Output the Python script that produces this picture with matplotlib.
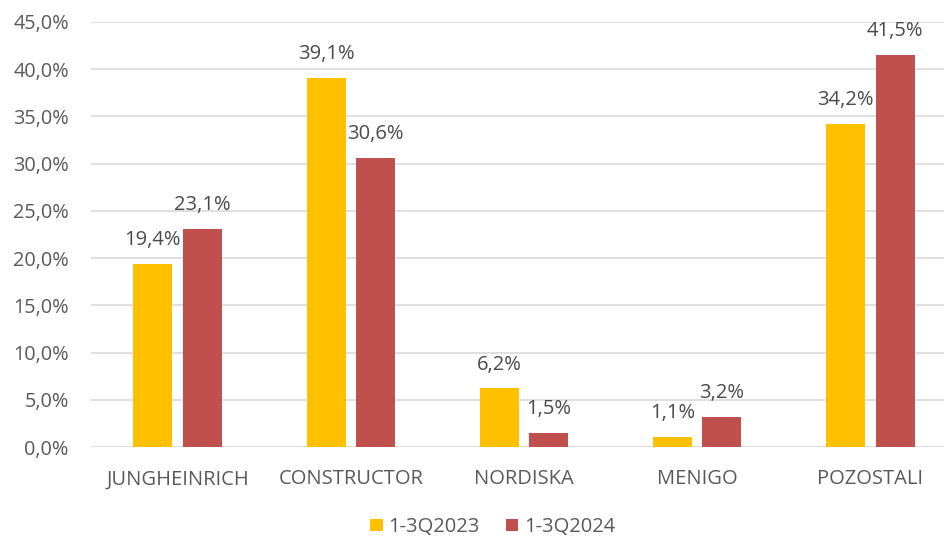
import matplotlib
matplotlib.use("Agg")
import matplotlib.pyplot as plt
import numpy as np

categories = ["JUNGHEINRICH", "CONSTRUCTOR", "NORDISKA", "MENIGO", "POZOSTALI"]
s2023 = [19.4, 39.1, 6.2, 1.1, 34.2]
s2024 = [23.1, 30.6, 1.5, 3.2, 41.5]
series_names = ["1-3Q2023", "1-3Q2024"]
yticks = [0, 5, 10, 15, 20, 25, 30, 35, 40, 45]

plt.rcParams['font.family'] = ['Open Sans', 'DejaVu Sans']
txt = '#595959'

fig = plt.figure(figsize=(9.44, 5.4), dpi=100)
ax = fig.add_axes([91/944, 1-447/540, 866/944, (447-22)/540])

x = np.arange(len(categories))
w = 0.225
off = 0.143
b1 = ax.bar(x - off, s2023, w, color='#FFC000', label=series_names[0], zorder=3)
b2 = ax.bar(x + off, s2024, w, color='#C0504D', label=series_names[1], zorder=3)

for bars, vals in ((b1, s2023), (b2, s2024)):
    for b, v in zip(bars, vals):
        ax.annotate(f"{v:.1f}%".replace('.', ','), (b.get_x() + b.get_width()/2, v),
                    xytext=(0, 10), textcoords='offset points', ha='center', va='bottom',
                    fontsize=14.5, color='#4a4a4a')

ax.set_xlim(-0.5, 4.5)
ax.set_ylim(0, 45)
ax.set_yticks(yticks)
ax.set_yticklabels([f"{t:.1f}%".replace('.', ',') for t in yticks], fontsize=14.3, color=txt)
ax.set_xticks(x)
ax.set_xticklabels(categories, fontsize=14.5, color=txt)
ax.tick_params(axis='both', length=0)
ax.tick_params(axis='x', pad=16)
ax.tick_params(axis='y', pad=16)
ax.grid(axis='y', color='#D9D9D9', linewidth=1.2, zorder=0)
for s in ax.spines.values():
    s.set_visible(False)

leg = fig.legend(handles=[b1, b2], labels=series_names, loc='center', bbox_to_anchor=(493/944, 1-527/540),
                 ncol=2, frameon=False, fontsize=14.5, handlelength=0.6, handleheight=0.6,
                 columnspacing=1.3, handletextpad=0.3, borderpad=0.1)
for t in leg.get_texts():
    t.set_color(txt)

fig.savefig("out.png", dpi=100)
